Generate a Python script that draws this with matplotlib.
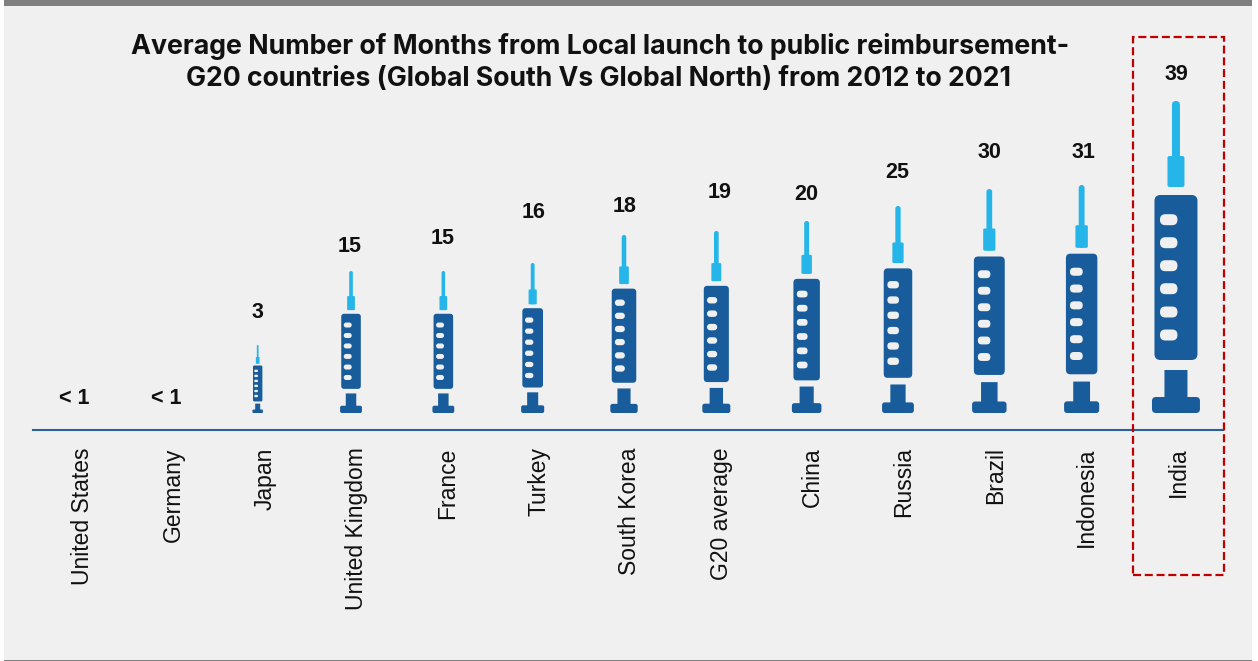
import numpy as np
import matplotlib
matplotlib.use("Agg")
import matplotlib.pyplot as plt
from matplotlib.patches import FancyBboxPatch, Rectangle
from matplotlib.transforms import Affine2D, ScaledTranslation

# Data
countries = ["United States", "Germany", "Japan", "United Kingdom", "France", "Turkey",
             "South Korea", "G20 average", "China", "Russia", "Brazil", "Indonesia", "India"]
months = [0.5, 0.5, 3, 15, 15, 16, 18, 19, 20, 25, 30, 31, 39]
value_labels = ["< 1", "< 1", "3", "15", "15", "16", "18", "19", "20", "25", "30", "31", "39"]

# Vertical scale: months to syringe length in pixels
scale_months = [0, 1, 3, 15, 16, 18, 19, 20, 25, 30, 31, 39]
scale_pixels = [0, 1, 68, 142, 150, 178, 182, 192, 207, 224, 228, 312]

# Small per-country layout tweaks, in pixels
icon_nudge = [0, 0, -5, -3, -2, -4, -4, -3, -4, -4, -4, -3, 0]
label_nudge = [-6, -5, -5, -4, -3, -3, -3, 0, -4, -5, -4, -1, 0]
label_rise = [14, 14, 32, 25, 33, 51, 29, 38, 27, 33, 36, 32, 26]

DARK = "#185C9C"
LIGHT = "#25B5E9"
PANEL = "#F0F0F0"
W, H = 1258, 661
FULL_ICON = 312.0


def to_fig(x0, y0, x1, y1):
    """Pixel box measured from the top-left corner, as figure fractions."""
    return [x0 / W, 1 - y1 / H, (x1 - x0) / W, (y1 - y0) / H]


def forward(v):
    return np.interp(v, scale_months, scale_pixels)


def inverse(p):
    return np.interp(p, scale_pixels, scale_months)


fig = plt.figure(figsize=(W / 100, H / 100), dpi=100, facecolor="white")

# Panel with a heavy top rule and a thin bottom rule
for box, colour in [((4, 6, 1252, 660), PANEL), ((4, 0, 1252, 6), "#7F7F7F"),
                    ((4, 659.5, 1252, 661), "#7F7F7F")]:
    x, y, w, h = to_fig(*box)
    fig.add_artist(Rectangle((x, y), w, h, transform=fig.transFigure,
                             facecolor=colour, edgecolor="none", zorder=-5))

ax = fig.add_axes(to_fig(33, 101, 1223, 413))
ax.patch.set_visible(False)
ax.set_yscale("function", functions=(forward, inverse))
ax.set_xlim(-0.515, 12.515)
ax.set_ylim(0, 39)
ax.set_autoscale_on(False)

for side in ("top", "left", "right"):
    ax.spines[side].set_visible(False)
ax.spines["bottom"].set_position(("outward", 17 * 0.72))
ax.spines["bottom"].set_color("#2A6099")
ax.spines["bottom"].set_linewidth(1.5)
ax.yaxis.set_visible(False)
ax.set_xticks(range(len(countries)))
ax.set_xticklabels(countries, rotation=90, family="Liberation Sans", fontsize=16.5, color="#111111")
ax.tick_params(axis="x", length=0, pad=12.5)
label_shift = ScaledTranslation(2 / 100, 0, fig.dpi_scale_trans)
for tick_label in ax.get_xticklabels():
    tick_label.set_transform(tick_label.get_transform() + label_shift)


def draw_syringe(axes, cx, base, length):
    """Syringe standing on (cx, base) in display pixels, scaled to the given length."""
    tf = Affine2D().scale(length / FULL_ICON).translate(cx, base)
    # x0, x1, y0, y1, corner radius, colour
    parts = [
        (-4, 4, 226, 312, 4, LIGHT),
        (-8.5, 8.5, 226, 257, 2, LIGHT),
        (-21.5, 21.5, 53, 218, 6, DARK),
        (-11.5, 11.5, 10, 43, 0.1, DARK),
        (-24, 24, 0, 16, 4, DARK),
    ]
    parts += [(-16, 1.5, c - 5.5, c + 5.5, 5.4, PANEL)
              for c in (193.3, 170.3, 147.3, 124.3, 101, 78)]
    for x0, x1, y0, y1, r, colour in parts:
        axes.add_patch(FancyBboxPatch((x0, y0), x1 - x0, y1 - y0,
                                      boxstyle=f"round,pad=0,rounding_size={r}",
                                      facecolor=colour, edgecolor="none",
                                      transform=tf, clip_on=False))


for i, m in enumerate(months):
    px, py = ax.transData.transform((i, m))
    _, py0 = ax.transData.transform((i, 0))
    # Values below one month are too small to show a syringe
    if m >= 1:
        draw_syringe(ax, px + icon_nudge[i], py0, py - py0)
    ax.annotate(value_labels[i], (i, m), xytext=(label_nudge[i], label_rise[i]),
                textcoords="offset pixels", ha="center", va="center",
                family="Liberation Sans", fontweight="bold", fontsize=15.5, color="#111111")

fig.text(600 / W, 1 - 46.5 / H, "Average Number of Months from Local launch to public reimbursement-",
         ha="center", va="center", family="Inter", fontweight="bold", fontsize=19.25, color="#111111")
fig.text(598 / W, 1 - 79.5 / H, "G20 countries (Global South Vs Global North) from 2012 to 2021",
         ha="center", va="center", family="Inter", fontweight="bold", fontsize=19.15, color="#111111")

# Highlight around India
x, y, w, h = to_fig(1133, 37, 1224, 575)
fig.add_artist(Rectangle((x, y), w, h, transform=fig.transFigure, facecolor="none",
                         edgecolor="#C00000", linewidth=1.6, linestyle=(0, (3.6, 1.7)), zorder=5))

fig.savefig("out.png", dpi=100, facecolor=fig.get_facecolor())
